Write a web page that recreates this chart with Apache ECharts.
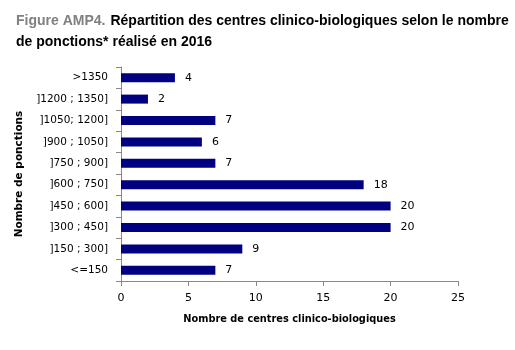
<!DOCTYPE html>
<html><head><meta charset="utf-8">
<script src="https://cdn.jsdelivr.net/npm/echarts@6/dist/echarts.min.js"></script>
<style>html,body{margin:0;padding:0;background:#fff}#c{width:515px;height:350px}</style>
</head><body><div id="c"></div>
<script>
var categories = ['<=150', ']150 ; 300]', ']300 ; 450]', ']450 ; 600]', ']600 ; 750]', ']750 ; 900]', ']900 ; 1050]', ']1050; 1200]', ']1200 ; 1350]', '>1350'];
var values = [7, 9, 20, 20, 18, 7, 6, 7, 2, 4];
var xTicks = [0, 5, 10, 15, 20, 25];

var chart = echarts.init(document.getElementById('c'));
chart.setOption({
  animation: false,
  title: {
    left: 11, top: 6,
    text: '{g|Figure AMP4.} {b|Répartition des centres clinico-biologiques selon le nombre}\n{b|de ponctions* réalisé en 2016}',
    textStyle: {
      rich: {
        g: {fontFamily: 'Liberation Sans', fontSize: 14, fontWeight: 'bold', color: '#808080', lineHeight: 21},
        b: {fontFamily: 'Liberation Sans', fontSize: 14, fontWeight: 'bold', color: '#000000', lineHeight: 21}
      }
    }
  },
  grid: {left: 121, right: 57, top: 67, bottom: 69, containLabel: false},
  xAxis: {
    type: 'value', min: xTicks[0], max: xTicks[xTicks.length - 1], interval: 5,
    name: 'Nombre de centres clinico-biologiques', nameLocation: 'middle', nameGap: 33,
    nameTextStyle: {fontFamily: 'DejaVu Sans', fontSize: 9.8, fontWeight: 'bold', color: '#000'},
    axisLine: {show: true, lineStyle: {color: '#888'}},
    axisTick: {show: true, length: 5, lineStyle: {color: '#888'}},
    axisLabel: {fontFamily: 'DejaVu Sans', fontSize: 11, color: '#000', margin: 12},
    splitLine: {show: false}
  },
  yAxis: {
    type: 'category', data: categories,
    name: 'Nombre de ponctions', nameLocation: 'middle', nameGap: 94, nameRotate: 90,
    nameTextStyle: {fontFamily: 'DejaVu Sans', fontSize: 10.5, fontWeight: 'bold', color: '#000'},
    axisLine: {show: true, lineStyle: {color: '#888'}},
    axisTick: {show: true, length: 5, alignWithLabel: false, lineStyle: {color: '#888'}},
    axisLabel: {fontFamily: 'DejaVu Sans', fontSize: 10.5, color: '#000', margin: 13}
  },
  series: [{
    type: 'bar', data: values, barWidth: 9,
    itemStyle: {color: '#000080'},
    label: {show: true, position: 'right', distance: 10, fontFamily: 'DejaVu Sans', fontSize: 11, color: '#000'}
  }]
});
</script></body></html>
